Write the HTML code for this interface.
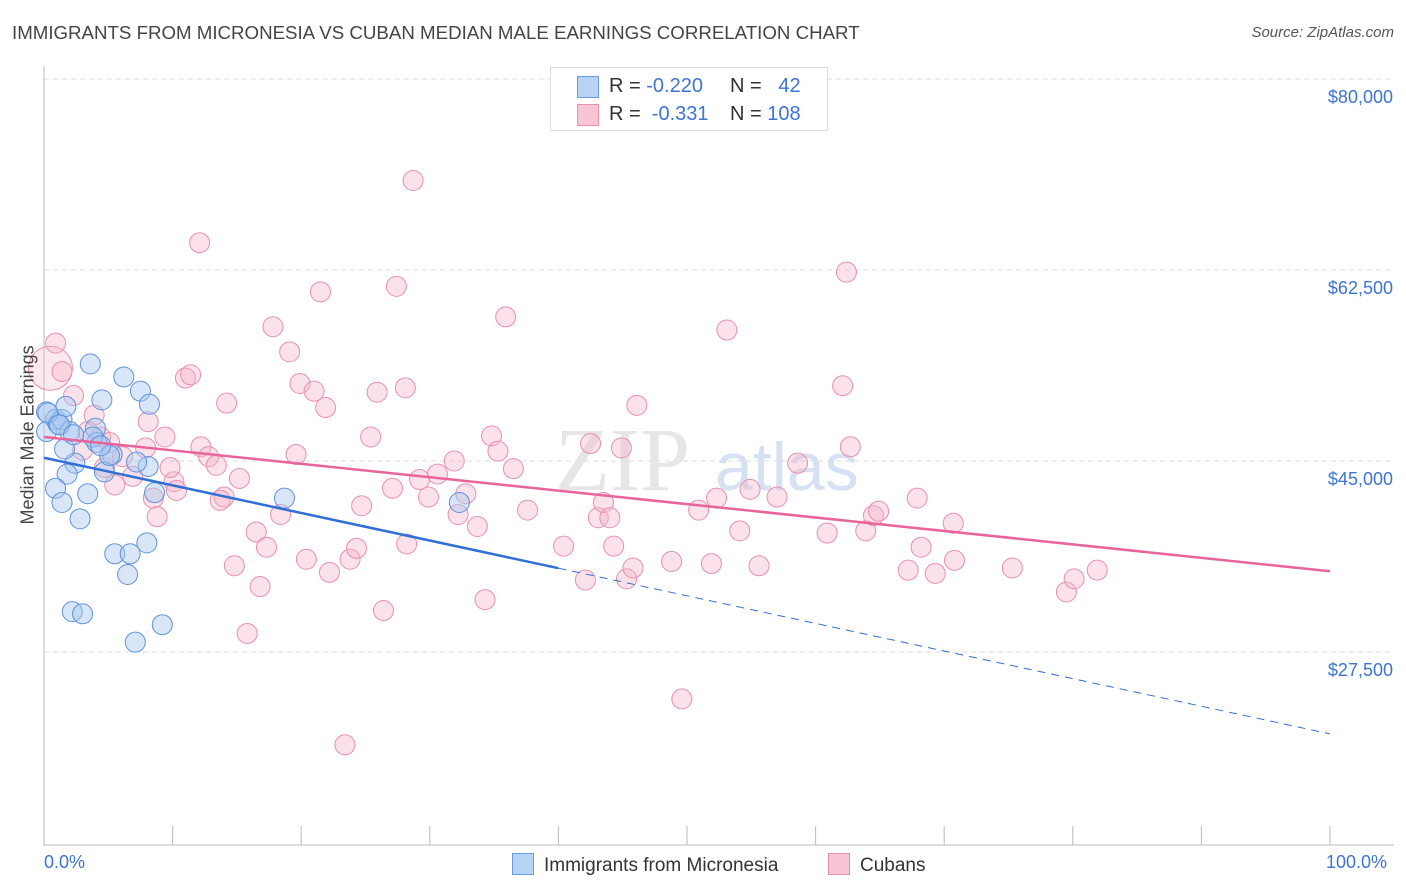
<!DOCTYPE html>
<html><head><meta charset="utf-8"><style>
body{margin:0;background:#fff;font-family:"Liberation Sans",sans-serif;}
#wrap{position:relative;width:1406px;height:892px;overflow:hidden;}
.t{position:absolute;white-space:nowrap;}
</style></head><body>
<div id="wrap">
<div class="t" style="left:12px;top:22px;font-size:18.7px;color:#444;">IMMIGRANTS FROM MICRONESIA VS CUBAN MEDIAN MALE EARNINGS CORRELATION CHART</div>
<div class="t" style="right:12px;top:24px;font-size:15px;color:#555;font-style:italic;">Source: ZipAtlas.com</div>
<svg id="svg" width="1406" height="892" style="position:absolute;left:0;top:0"></svg>
</div>
<script>
const blueX=[0.2,0.2,0.9,1.1,1.4,1.7,2.0,2.4,1.6,1.8,0.9,1.4,2.8,3.4,3.6,4.5,4.0,4.1,4.7,5.3,6.2,7.5,8.2,8.1,7.2,8.6,5.5,6.7,6.5,8.0,2.2,3.0,7.1,9.2,18.7,32.3,0.3,3.8,1.2,5.1,4.4,2.3];
const blueY=[49500,47700,48800,48400,48800,50000,47700,44800,46100,43800,42500,41200,39700,42000,53900,50600,48000,46700,44000,45600,52700,51400,50200,44500,44900,42100,36500,36500,34600,37500,31200,31000,28400,30000,41600,41200,49400,47200,48300,45500,46400,47400];
const pinkX=[0.5,0.9,1.4,2.3,3.9,3.4,4.4,5.1,3.0,6.1,4.7,5.5,6.9,8.5,8.8,8.1,7.9,9.4,10.1,10.3,12.1,11.0,11.4,12.2,12.8,13.4,14.2,14.0,15.2,16.5,14.8,17.3,16.8,15.8,17.8,19.1,18.4,19.9,19.6,21.0,21.5,21.9,20.4,22.2,23.8,24.3,23.4,24.7,25.4,25.9,27.4,28.1,27.1,28.2,26.4,28.7,29.9,30.6,31.9,32.2,32.8,34.3,33.7,34.8,35.3,35.9,36.5,37.6,40.4,42.5,43.1,43.5,44.0,44.3,44.9,45.3,45.8,46.1,48.8,49.6,50.9,51.9,52.3,53.1,54.1,54.9,55.6,57.0,58.6,60.9,62.1,62.4,62.7,63.9,64.5,64.9,67.2,67.9,68.2,69.3,70.7,70.8,75.3,79.5,80.1,81.9,13.7,9.8,29.2,42.1];
const pinkY=[53500,55800,53200,51000,49200,47700,47200,46700,46000,45400,44400,42800,43600,41600,39900,48600,46200,47200,43100,42300,65000,52600,52900,46300,45400,44600,50300,41700,43400,38500,35400,37100,33500,29200,57300,55000,40100,52100,45600,51400,60500,49900,36000,34800,36000,37000,19000,40900,47200,51300,61000,51700,42500,37400,31300,70700,41700,43800,45000,40100,42000,32300,39000,47300,45900,58200,44300,40500,37200,46600,39800,41200,39800,37200,46200,34200,35200,50100,35800,23200,40500,35600,41600,57000,38600,42400,35400,41700,44800,38400,51900,62300,46300,38600,40000,40400,35000,41600,37100,34700,39300,35900,35200,33000,34200,35000,41400,44400,43300,34100];
const blueTrend=[45300,20000];
const pinkTrend=[47200,34900];
const yTicks=[80000,62500,45000,27500];
const yTickLabels=["$80,000","$62,500","$45,000","$27,500"];
const NS="http://www.w3.org/2000/svg";
const svg=document.getElementById('svg');
const X0=44,X1=1330;
const sx=v=>X0+(X1-X0)*v/100;
const sy=v=>79+(80000-v)/17500*191;
function mk(t,a){const e=document.createElementNS(NS,t);for(const k in a)e.setAttribute(k,a[k]);svg.appendChild(e);return e;}
yTicks.forEach((v,i)=>{
 const g=mk('line',{x1:44,x2:1394,y1:sy(v),y2:sy(v),stroke:'#ddd','stroke-dasharray':'5,4'});
 
 
 const t=mk('text',{x:1393,y:sy(v)+24,'text-anchor':'end','font-size':18,fill:'#3d74d6'});
 t.textContent=yTickLabels[i];
 
 
});
const ax=mk('line',{x1:44,x2:44,y1:66,y2:846,stroke:'#bbb'});


const bx=mk('line',{x1:44,x2:1394,y1:845,y2:845,stroke:'#bbb'});


for(let i=0;i<=10;i++){const tk=mk('line',{x1:sx(i*10),x2:sx(i*10),y1:826,y2:845,stroke:'#bbb'});
 
 }
const wm=mk('text',{x:555,y:490,'font-size':90,fill:'#e6e6e6','font-family':'Liberation Serif, serif'});
wm.textContent='ZIP';


const wm2=mk('text',{x:715,y:490,'font-size':68,fill:'#d6e2f3'});
wm2.textContent='atlas';


pinkX.forEach((x,i)=>{const c=mk('circle',{cx:sx(x),cy:sy(pinkY[i]),r:i==0?22:10,fill:'#f5b5c8','fill-opacity':i==0?0.3:0.4,stroke:'#e990ad','stroke-width':1});
 
 });
blueX.forEach((x,i)=>{const c=mk('circle',{cx:sx(x),cy:sy(blueY[i]),r:10,fill:'#a9c8f0','fill-opacity':0.45,stroke:'#5e93dc','stroke-width':1});
 
 });
const bm=blueTrend[0]+(blueTrend[1]-blueTrend[0])*0.4;
const l1=mk('line',{x1:sx(0),y1:sy(blueTrend[0]),x2:sx(40),y2:sy(bm),stroke:'#2f6fd6','stroke-width':2.5});


const l2=mk('line',{x1:sx(40),y1:sy(bm),x2:sx(100),y2:sy(blueTrend[1]),stroke:'#2f6fd6','stroke-width':1,'stroke-dasharray':'8,6'});


const l3=mk('line',{x1:sx(0),y1:sy(pinkTrend[0]),x2:sx(100),y2:sy(pinkTrend[1]),stroke:'#e8649a','stroke-width':2.5});


</script>
<div class="t" style="left:-42px;top:444px;font-size:18px;color:#444;transform:rotate(-90deg);width:140px;text-align:center;">Median Male Earnings</div>
<div class="t" style="left:44px;top:852px;font-size:18px;color:#3d74d6;">0.0%</div>
<div class="t" style="left:1326px;top:852px;font-size:18px;color:#3d74d6;">100.0%</div>
<div style="position:absolute;left:550px;top:67px;width:276px;height:62px;border:1px solid #ddd;background:#fff;font-size:20px;color:#333;">
 <div style="position:absolute;left:26px;top:8px;width:20px;height:20px;background:#b9d3f5;border:1px solid #6a9de0;"></div>
 <div class="t" style="left:58px;top:7px;">R = <span style="color:#3d74d6">-0.220</span></div>
 <div class="t" style="left:179px;top:7px;">N = <span style="color:#3d74d6">&nbsp;&nbsp;42</span></div>
 <div style="position:absolute;left:26px;top:36px;width:20px;height:20px;background:#f9c4d4;border:1px solid #e990ad;"></div>
 <div class="t" style="left:58px;top:35px;">R = <span style="color:#3d74d6">&nbsp;-0.331</span></div>
 <div class="t" style="left:179px;top:35px;">N = <span style="color:#3d74d6">108</span></div>
</div>
<div style="position:absolute;left:512px;top:853px;font-size:19px;color:#333;">
 <span style="display:inline-block;width:20px;height:20px;background:#b9d3f5;border:1px solid #6a9de0;vertical-align:-4px;margin-right:10px;"></span>Immigrants from Micronesia</div>
<div style="position:absolute;left:828px;top:853px;font-size:19px;color:#333;">
 <span style="display:inline-block;width:20px;height:20px;background:#f9c4d4;border:1px solid #e990ad;vertical-align:-4px;margin-right:10px;"></span>Cubans</div>
</body></html>
